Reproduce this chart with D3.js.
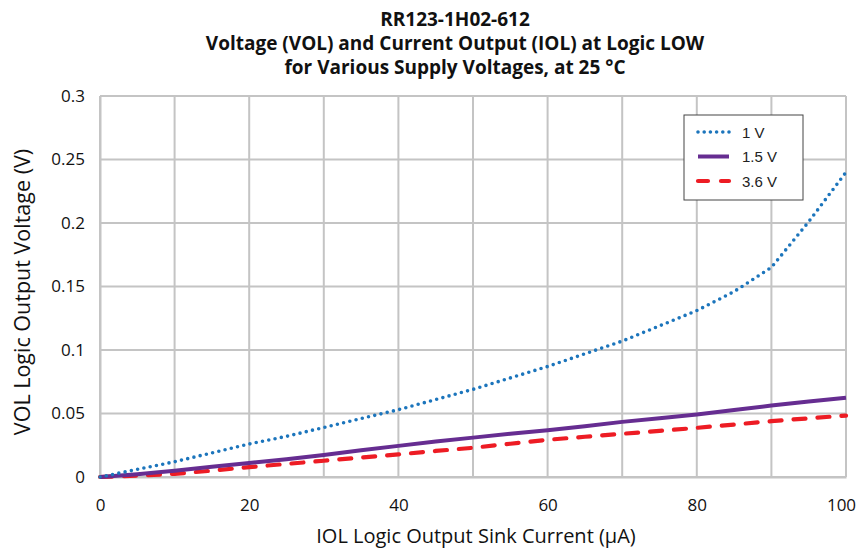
<!DOCTYPE html>
<html><head><meta charset="utf-8">
<script src="https://cdn.jsdelivr.net/npm/d3@7"></script>
<style>body{margin:0;background:#fff}svg{display:block}</style>
</head><body>
<svg id="c" width="859" height="549"></svg>
<script>
const titleLines = ["RR123-1H02-612","Voltage (VOL) and Current Output (IOL) at Logic LOW","for Various Supply Voltages, at 25 \u00B0C"];
const xLabel = "IOL Logic Output Sink Current (\u00B5A)";
const yLabel = "VOL Logic Output Voltage (V)";
const seriesNames = ["1 V","1.5 V","3.6 V"];
const seriesColors = ["#1c75bc","#662d91","#ed1c24"];
const xTicks = [0,20,40,60,80,100];
const yTicks = [0,0.05,0.1,0.15,0.2,0.25,0.3];
const yTickLabels = ["0","0.05","0.1","0.15","0.2","0.25","0.3"];
const iolX = [0,5,10,15,20,25,30,35,40,45,50,55,60,65,70,75,80,85,90,95,100];
const vol1V = [0,0.006,0.012,0.019,0.026,0.032,0.039,0.046,0.053,0.061,0.069,0.078,0.087,0.097,0.107,0.119,0.131,0.146,0.165,0.201,0.240];
const vol15V = [0,0.0022,0.005,0.008,0.011,0.014,0.0174,0.021,0.0245,0.028,0.031,0.034,0.0368,0.040,0.0434,0.0463,0.0492,0.0527,0.0563,0.0594,0.0624];
const vol36V = [0,0.001,0.0025,0.005,0.0078,0.0103,0.0128,0.0153,0.0178,0.0205,0.023,0.0262,0.0293,0.0317,0.034,0.0363,0.0387,0.0413,0.044,0.0462,0.0484];
const seriesValues = [vol1V, vol15V, vol36V];

const svg = d3.select("#c");
const m = {l:100, r:846, t:96, b:477};
const x = d3.scaleLinear().domain([0,100]).range([m.l, m.r]);
const y = d3.scaleLinear().domain([0,0.3]).range([m.b, m.t]);
const font = "'Open Sans', 'Noto Sans', sans-serif";
const grid = "#c4c4c4";

// grid
svg.append("g").selectAll("line").data(d3.range(0,101,10)).join("line")
  .attr("x1", d=>x(d)).attr("x2", d=>x(d)).attr("y1", m.t).attr("y2", m.b)
  .attr("stroke", grid).attr("stroke-width", 2);
svg.append("g").selectAll("line").data(yTicks).join("line")
  .attr("x1", m.l).attr("x2", m.r).attr("y1", d=>y(d)).attr("y2", d=>y(d))
  .attr("stroke", grid).attr("stroke-width", 2);

// axes
const xa = svg.append("g").attr("transform", `translate(0,${m.b})`)
  .call(d3.axisBottom(x).tickValues(xTicks).tickSize(0).tickPadding(22));
const ya = svg.append("g").attr("transform", `translate(${m.l},0)`)
  .call(d3.axisLeft(y).tickValues(yTicks).tickSize(0).tickPadding(15).tickFormat((d,i)=>yTickLabels[i]));
[xa, ya].forEach(a => {
  a.select(".domain").attr("stroke", grid).attr("stroke-width", 2);
  a.selectAll("text").attr("font-family", font).attr("font-size", 17).attr("fill", "#111");
});
xa.selectAll(".tick text").attr("dx", d => d === 100 ? -5 : 0);

// series
const line = d3.line().x((d,i)=>x(iolX[i])).y(d=>y(d));
const styles = [
  {w:3.6, dash:"0,6.4", cap:"round"},
  {w:4, dash:null, cap:"butt"},
  {w:4.2, dash:"12,12", cap:"round"}
];
[2,1,0].forEach(k => {
  svg.append("path").datum(seriesValues[k]).attr("d", line)
    .attr("fill","none").attr("stroke", seriesColors[k])
    .attr("stroke-width", styles[k].w).attr("stroke-linecap", styles[k].cap)
    .attr("stroke-dasharray", styles[k].dash);
});

// title
svg.append("g").selectAll("text").data(titleLines).join("text")
  .attr("x", 455).attr("y", (d,i)=>26+i*24).attr("text-anchor","middle")
  .attr("font-family", font).attr("font-weight","bold").attr("font-size", 19)
  .attr("fill","#111").text(d=>d);

// axis titles
svg.append("text").attr("x", 476).attr("y", 543).attr("text-anchor","middle")
  .attr("font-family", font).attr("font-size", 20).attr("fill","#111").text(xLabel);
svg.append("text").attr("transform","translate(30,292) rotate(-90)").attr("text-anchor","middle")
  .attr("font-family", font).attr("font-size", 21.5).attr("fill","#111").text(yLabel);

// legend
const lg = svg.append("g");
lg.append("rect").attr("x",684).attr("y",115).attr("width",119).attr("height",85)
  .attr("fill","#fff").attr("stroke","#444").attr("stroke-width",1);
const legDash = ["0,6.2", null, "10,13"];
seriesNames.forEach((n,k) => {
  const ly = 132 + k*24.5;
  lg.append("line").attr("x1",698).attr("x2",729).attr("y1",ly).attr("y2",ly)
    .attr("stroke",seriesColors[k]).attr("stroke-width",styles[k].w)
    .attr("stroke-linecap", styles[k].cap).attr("stroke-dasharray", legDash[k]);
  lg.append("text").attr("x",742).attr("y",ly+5.5).attr("font-family","'Liberation Sans', Arial, sans-serif")
    .attr("font-size",15).attr("fill","#222").text(n);
});
</script>
</body></html>
